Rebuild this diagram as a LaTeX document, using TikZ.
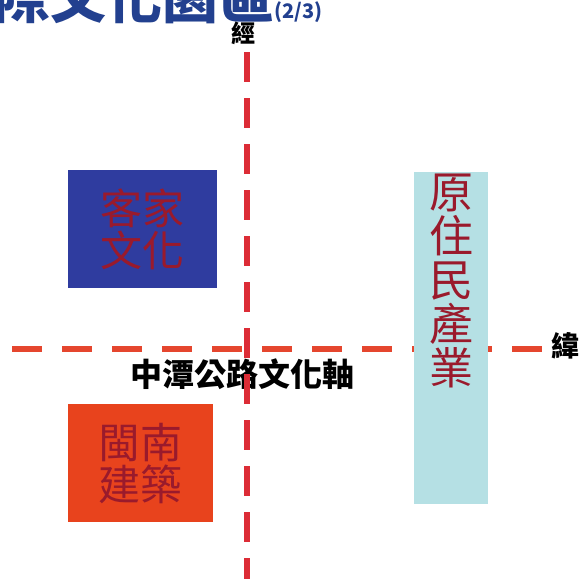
\documentclass[tikz,border=0pt]{standalone}
\usepackage{fontspec}
\newfontfamily\cjk{Noto Sans CJK TC}
\definecolor{titleblue}{HTML}{22408F}
\definecolor{weftred}{HTML}{E5462E}
\definecolor{warpred}{HTML}{DC2C36}
\definecolor{boxblue}{HTML}{2F3C9F}
\definecolor{boxred}{HTML}{E8431D}
\definecolor{boxcyan}{HTML}{B5E0E4}
\definecolor{inkred}{HTML}{9A1A2C}
\newcommand{\bigcjk}[1]{\fontsize{#1}{#1}\selectfont}

\begin{document}
\begin{tikzpicture}[x=1pt, y=-1pt, font=\cjk,
    zone/.style={rectangle, inner sep=0pt, anchor=north west, align=center, text=inkred},
    axisline/.style={line width=6pt, dash pattern=on 30pt off 20pt}]
    \useasboundingbox (0,0) rectangle (584,579);
    \clip (0,0) rectangle (584,579);

    % title, cut by the top edge
    \node (title) [anchor=base west, inner sep=0pt, text=titleblue, font=\cjk\bfseries\bigcjk{56}] at (-6,18) {際文化園區{\bigcjk{20}(2/3)}};

    \coordinate (warptop) at (247,52);
    \coordinate (warpbot) at (247,579);
    \coordinate (weftleft) at (12,349);
    \coordinate (weftright) at (542,349);

    \node (warp) [font=\cjk\bfseries\bigcjk{24}] at (243,33) {經};
    \node (weft) [font=\cjk\bfseries\bigcjk{28}] at (565,346) {緯};
    \node (road) [font=\cjk\bfseries\bigcjk{32}] at (242,374) {中潭公路文化軸};

    \draw[axisline, weftred] (weftleft) -- (weftright);

    \node (hakka) [zone, fill=boxblue, minimum width=149pt, minimum height=118pt, font=\cjk\bigcjk{42}] at (68,170) {客家\\文化};
    \node (minnan) [zone, fill=boxred, minimum width=145pt, minimum height=118pt, font=\cjk\bigcjk{42}] at (68,404) {閩南\\建築};
    \node (tribe) [zone, fill=boxcyan, minimum width=74pt, minimum height=332pt] at (414,172) {};
    \node (tribetext) [align=center, text=inkred, font=\cjk\bigcjk{44}, anchor=north, inner sep=2pt] at (tribe.north) {原\\住\\民\\產\\業};

    \draw[axisline, warpred, dash pattern=on 30pt off 16pt] (warptop) -- (warpbot);
\end{tikzpicture}
\end{document}
